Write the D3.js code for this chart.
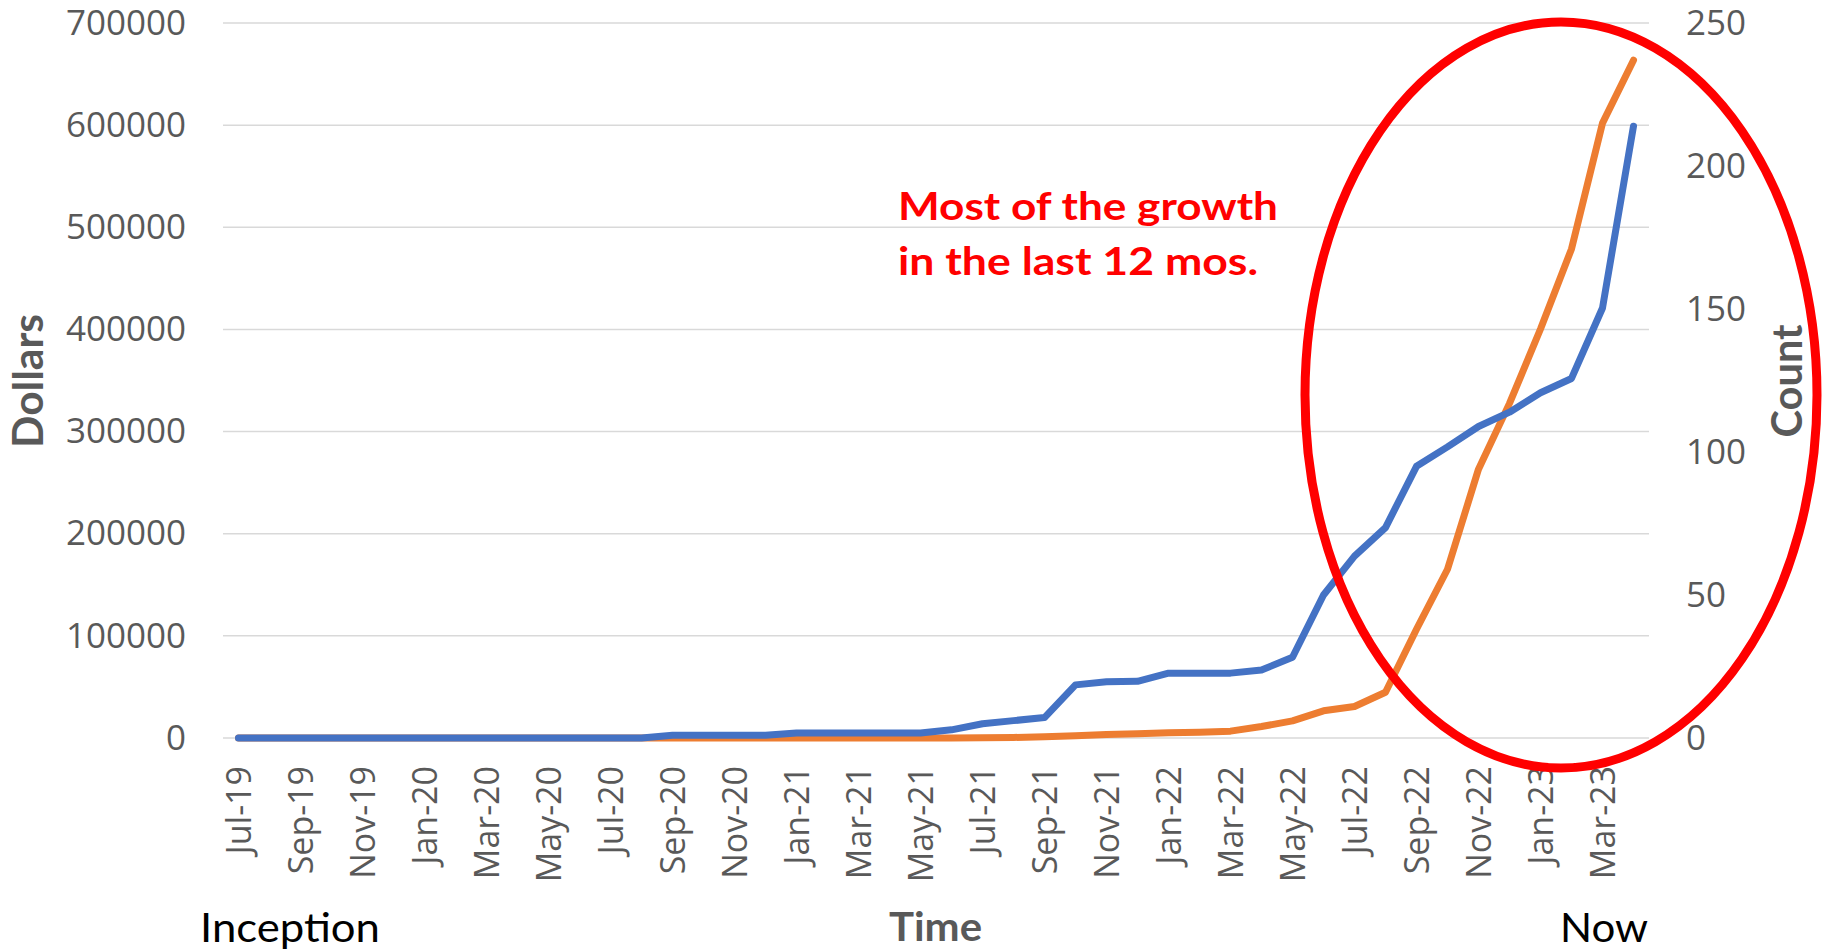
<!DOCTYPE html>
<html>
<head>
<meta charset="utf-8">
<script src="https://cdn.jsdelivr.net/npm/d3@7"></script>
<style>
  body { margin: 0; background: #ffffff; }
  svg { display: block; }
</style>
</head>
<body>
<div id="container"></div>
<script>
// Dollars and Count over time, Jul-19 to Apr-23 (monthly)

//### DATA ###
const months = [
  'Jul-19', 'Aug-19', 'Sep-19', 'Oct-19', 'Nov-19', 'Dec-19',
  'Jan-20', 'Feb-20', 'Mar-20', 'Apr-20', 'May-20', 'Jun-20',
  'Jul-20', 'Aug-20', 'Sep-20', 'Oct-20', 'Nov-20', 'Dec-20',
  'Jan-21', 'Feb-21', 'Mar-21', 'Apr-21', 'May-21', 'Jun-21',
  'Jul-21', 'Aug-21', 'Sep-21', 'Oct-21', 'Nov-21', 'Dec-21',
  'Jan-22', 'Feb-22', 'Mar-22', 'Apr-22', 'May-22', 'Jun-22',
  'Jul-22', 'Aug-22', 'Sep-22', 'Oct-22', 'Nov-22', 'Dec-22',
  'Jan-23', 'Feb-23', 'Mar-23', 'Apr-23'
];

//>>> Blue series, left axis:
const dollars = [
  0, 0, 0, 0, 0, 0, 0, 0, 0, 0, 0, 0, 0, 0,
  2600, 2600, 2600, 2600,
  5000, 5000, 5000, 5000, 5000,
  8000, 14000, 17000, 20000,
  52000, 55000, 55500, 63500, 63500, 63500, 66500, 79000,
  140000, 178000, 206000, 266000, 285000, 305000, 319000, 338000, 352000, 421000, 599000
];

//>>> Orange series, right axis:
const counts = [
  0, 0, 0, 0, 0, 0, 0, 0, 0, 0, 0, 0, 0, 0, 0, 0, 0, 0,
  0, 0, 0, 0, 0, 0, 0.1, 0.2,
  0.4, 0.8, 1.2, 1.5, 1.8, 2, 2.4, 4, 6, 9.5, 11, 16,
  38, 59, 94, 117, 143, 171, 215, 237
];

const dollarTicks = [ 0, 100000, 200000, 300000, 400000, 500000, 600000, 700000 ];
const countTicks = [ 0, 50, 100, 150, 200, 250 ];
const noteLines = [ 'Most of the growth', 'in the last 12 mos.' ];


//### CHART ###
const width = 1823;
const height = 951;
const plot = { left: 223, right: 1649, top: 23, bottom: 738 };

const grey = '#595959';
const tickFont = '"Open Sans", "DejaVu Sans", sans-serif';
const titleFont = 'Lato, "Open Sans", sans-serif';

const svg = d3.select( '#container' )
  .append( 'svg' )
  .attr( 'width', width )
  .attr( 'height', height );

//_____ SCALES _____
const x = d3.scalePoint()
  .domain( months )
  .range( [ plot.left, plot.right ] )
  .padding( 0.5 );

const yLeft = d3.scaleLinear()
  .domain( [ 0, 700000 ] )
  .range( [ plot.bottom, plot.top ] );

const yRight = d3.scaleLinear()
  .domain( [ 0, 250 ] )
  .range( [ plot.bottom, plot.top ] );

//_____ GRIDLINES _____
svg.append( 'g' )
  .selectAll( 'line' )
  .data( dollarTicks )
  .join( 'line' )
  .attr( 'x1', plot.left )
  .attr( 'x2', plot.right )
  .attr( 'y1', d => yLeft( d ) )
  .attr( 'y2', d => yLeft( d ) )
  .attr( 'stroke', '#d9d9d9' )
  .attr( 'stroke-width', 1.5 );

//_____ AXES _____
//>>> Left axis (Dollars):
const leftAxis = svg.append( 'g' )
  .attr( 'transform', `translate(${plot.left - 37}, 0)` )
  .call( d3.axisLeft( yLeft ).tickValues( dollarTicks ).tickFormat( d3.format( 'd' ) ).tickSize( 0 ).tickPadding( 0 ) );
leftAxis.select( '.domain' ).remove();
leftAxis.selectAll( 'text' )
  .attr( 'fill', grey )
  .style( 'font-family', tickFont )
  .style( 'font-size', '35px' );

//>>> Right axis (Count):
const rightAxis = svg.append( 'g' )
  .attr( 'transform', `translate(${plot.right + 37}, 0)` )
  .call( d3.axisRight( yRight ).tickValues( countTicks ).tickSize( 0 ).tickPadding( 0 ) );
rightAxis.select( '.domain' ).remove();
rightAxis.selectAll( 'text' )
  .attr( 'fill', grey )
  .style( 'font-family', tickFont )
  .style( 'font-size', '35px' );

//>>> Bottom axis, every second month, rotated:
const bottomAxis = svg.append( 'g' )
  .attr( 'transform', `translate(0, ${plot.bottom})` )
  .call( d3.axisBottom( x ).tickValues( months.filter( ( d, i ) => i % 2 === 0 ) ).tickSize( 0 ) );
bottomAxis.select( '.domain' ).remove();
bottomAxis.selectAll( 'text' )
  .attr( 'fill', grey )
  .attr( 'x', 0 )
  .attr( 'y', 0 )
  .attr( 'dy', '0.36em' )
  .attr( 'transform', 'translate(0, 28) rotate(-90)' )
  .attr( 'text-anchor', 'end' )
  .style( 'font-family', tickFont )
  .style( 'font-size', '34px' );

//_____ LINES _____
const series = [
  { values: counts, scale: yRight, color: '#ed7d31' },
  { values: dollars, scale: yLeft, color: '#4472c4' }
];

svg.append( 'g' )
  .selectAll( 'path' )
  .data( series )
  .join( 'path' )
  .attr( 'fill', 'none' )
  .attr( 'stroke', d => d.color )
  .attr( 'stroke-width', 7 )
  .attr( 'stroke-linejoin', 'round' )
  .attr( 'stroke-linecap', 'round' )
  .attr( 'd', s => d3.line()
    .x( ( v, i ) => x( months[ i ] ) )
    .y( v => s.scale( v ) )( s.values ) );

//_____ AXIS TITLES _____
svg.append( 'text' )
  .text( 'Dollars' )
  .attr( 'transform', 'translate(43, 381) rotate(-90)' )
  .attr( 'text-anchor', 'middle' )
  .attr( 'textLength', 134 )
  .attr( 'lengthAdjust', 'spacingAndGlyphs' )
  .attr( 'fill', grey )
  .style( 'font-family', titleFont )
  .style( 'font-weight', 'bold' )
  .style( 'font-size', '42px' );

svg.append( 'text' )
  .text( 'Count' )
  .attr( 'transform', 'translate(1802, 381) rotate(-90)' )
  .attr( 'text-anchor', 'middle' )
  .attr( 'textLength', 113 )
  .attr( 'lengthAdjust', 'spacingAndGlyphs' )
  .attr( 'fill', grey )
  .style( 'font-family', titleFont )
  .style( 'font-weight', 'bold' )
  .style( 'font-size', '42px' );

svg.append( 'text' )
  .text( 'Time' )
  .attr( 'x', 889 )
  .attr( 'y', 941 )
  .attr( 'textLength', 93 )
  .attr( 'lengthAdjust', 'spacingAndGlyphs' )
  .attr( 'fill', grey )
  .style( 'font-family', titleFont )
  .style( 'font-weight', 'bold' )
  .style( 'font-size', '41px' );

//>>> Inception / Now under the axis ends:
[ { t: 'Inception', x: 200, len: 180 }, { t: 'Now', x: 1560, len: 88 } ].forEach( d => {
  svg.append( 'text' )
    .text( d.t )
    .attr( 'x', d.x )
    .attr( 'y', 942 )
    .attr( 'textLength', d.len )
    .attr( 'lengthAdjust', 'spacingAndGlyphs' )
    .attr( 'fill', '#000000' )
    .style( 'font-family', titleFont )
    .style( 'font-size', '40px' );
} );

//_____ ANNOTATION _____
svg.append( 'g' )
  .selectAll( 'text' )
  .data( noteLines )
  .join( 'text' )
  .text( d => d )
  .attr( 'x', 898 )
  .attr( 'y', ( d, i ) => 220 + i * 55 )
  .attr( 'textLength', ( d, i ) => i === 0 ? 380 : 360 )
  .attr( 'lengthAdjust', 'spacingAndGlyphs' )
  .attr( 'fill', '#ff0000' )
  .style( 'font-family', titleFont )
  .style( 'font-weight', 'bold' )
  .style( 'font-size', '39px' );

svg.append( 'ellipse' )
  .attr( 'cx', 1561 )
  .attr( 'cy', 395 )
  .attr( 'rx', 256 )
  .attr( 'ry', 373 )
  .attr( 'fill', 'none' )
  .attr( 'stroke', '#ff0000' )
  .attr( 'stroke-width', 9 );
</script>
</body>
</html>
